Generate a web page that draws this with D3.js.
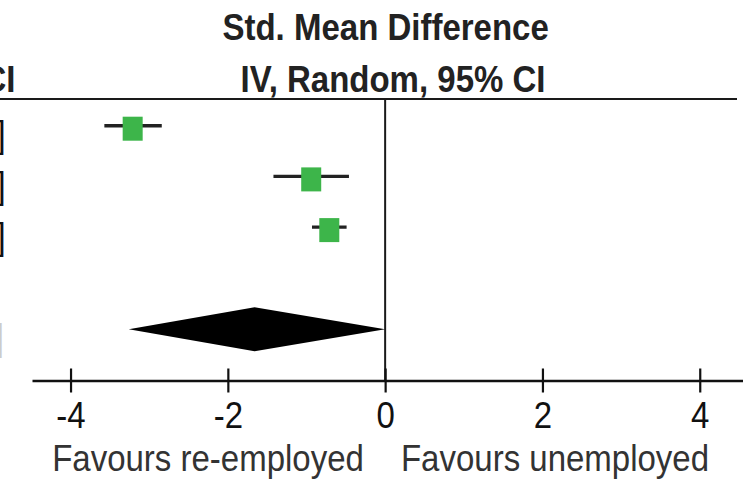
<!DOCTYPE html>
<html>
<head>
<meta charset="utf-8">
<script src="https://cdn.jsdelivr.net/npm/d3@7"></script>
<style>
  html, body { margin: 0; padding: 0; background: #fff; }
  svg { display: block; }
  text { font-family: "Liberation Sans", Arial, Helvetica, sans-serif; }
</style>
</head>
<body>
<div id="chart"></div>
<script>
// Study-level standardised mean differences (IV, random effects) with 95% CI
const studyIndex = [0, 1, 2];
const studyEffect = [-3.21, -0.94, -0.71];
const studyLower = [-3.57, -1.42, -0.93];
const studyUpper = [-2.84, -0.46, -0.49];

// Pooled estimate (diamond)
const pooledIndex = 4;
const pooledEffect = -1.66;
const pooledLower = -3.26;
const pooledUpper = 0.00;

// Axis
const tickValues = [-4, -2, 0, 2, 4];
const tickLabels = ["-4", "-2", "0", "2", "4"];
const axisDomain = [-4.49, 4.55];
const favourLabels = ["Favours re-employed", "Favours unemployed"];
const headerLines = ["Std. Mean Difference", "IV, Random, 95% CI"];

const W = 743, H = 483;
const axisY = 380.5;
const headerRuleY = 99;

const svg = d3.select("#chart").append("svg")
  .attr("width", W).attr("height", H);

const x = d3.scaleLinear().domain(axisDomain).range([32, 743]);
const y = d3.scaleLinear().domain([0, 4]).range([125.7, 328.5]);

// text drawn slightly taller than wide, like the source typesetting
function stretchedText(g, tx, ty, sy) {
  return g.append("g").attr("transform", `translate(${tx},${ty}) scale(1,${sy})`)
    .append("text");
}

// Header
stretchedText(svg, x(0) + 0.5, 40, 1.14)
  .attr("text-anchor", "middle").attr("font-size", 33).attr("font-weight", "bold")
  .attr("fill", "#222").text(headerLines[0]);
stretchedText(svg, 393, 91.5, 1.14)
  .attr("text-anchor", "middle").attr("font-size", 33).attr("font-weight", "bold")
  .attr("fill", "#222").text(headerLines[1]);
// tail of the neighbouring column's heading
stretchedText(svg, 15.5, 91.5, 1.14)
  .attr("text-anchor", "end").attr("font-size", 33).attr("font-weight", "bold")
  .attr("fill", "#222").text("CI");

// Header rule
svg.append("line")
  .attr("x1", 0).attr("x2", 737).attr("y1", headerRuleY).attr("y2", headerRuleY)
  .attr("stroke", "#1a1a1a").attr("stroke-width", 2.2);

// Line of no effect
svg.append("line")
  .attr("x1", x(0)).attr("x2", x(0)).attr("y1", headerRuleY).attr("y2", axisY)
  .attr("stroke", "#1a1a1a").attr("stroke-width", 2);

// Closing brackets of the neighbouring CI column (clipped at the left edge)
const bracketRows = studyIndex.concat([pooledIndex]);
bracketRows.forEach((r, i) => {
  stretchedText(svg, i < 3 ? -3.6 : -5.2, y(r) + 21.5, 1.14)
    .attr("font-size", 33).attr("fill", i < 3 ? "#111" : "#ccc").text("]");
});

// Confidence interval whiskers
svg.append("g").selectAll("line")
  .data(studyIndex)
  .join("line")
  .attr("x1", (d, i) => x(studyLower[i]))
  .attr("x2", (d, i) => x(studyUpper[i]))
  .attr("y1", d => y(d)).attr("y2", d => y(d))
  .attr("stroke", "#222").attr("stroke-width", 3.4);

// Point estimates
const sqW = 20, sqH = 24;
svg.append("g").selectAll("rect")
  .data(studyIndex)
  .join("rect")
  .attr("x", (d, i) => x(studyEffect[i]) - sqW / 2)
  .attr("y", d => y(d) + 3 - sqH / 2)
  .attr("width", sqW).attr("height", sqH)
  .attr("fill", "#3db54a");

// Pooled diamond
const dy = y(pooledIndex) + 0.8, half = 22;
svg.append("path")
  .attr("d", d3.line()([
    [x(pooledLower), dy],
    [x(pooledEffect), dy - half],
    [x(pooledUpper), dy],
    [x(pooledEffect), dy + half]
  ]) + "Z")
  .attr("fill", "#000");

// X axis
const axis = svg.append("g")
  .attr("transform", `translate(0,${axisY})`)
  .call(d3.axisBottom(x).tickValues(tickValues).tickSizeInner(12).tickSizeOuter(0)
    .tickFormat((d, i) => tickLabels[i]));
axis.select(".domain").attr("stroke", "#111").attr("stroke-width", 2.7);
axis.selectAll(".tick line").attr("y1", -12).attr("y2", 12)
  .attr("stroke", "#111").attr("stroke-width", 2.2);
axis.selectAll(".tick text").remove();
axis.selectAll(".tick").each(function (d, i) {
  const g = d3.select(this).append("g").attr("transform", "translate(0,47.5) scale(1,1.1)");
  g.append("text").attr("text-anchor", "middle").attr("font-size", 33)
    .attr("fill", "#111").text(tickLabels[i]);
});

// Direction labels
stretchedText(svg, 208, 471, 1.14)
  .attr("text-anchor", "middle").attr("font-size", 33).attr("fill", "#333")
  .text(favourLabels[0]);
stretchedText(svg, 555, 471, 1.14)
  .attr("text-anchor", "middle").attr("font-size", 33).attr("fill", "#333")
  .text(favourLabels[1]);
</script>
</body>
</html>
